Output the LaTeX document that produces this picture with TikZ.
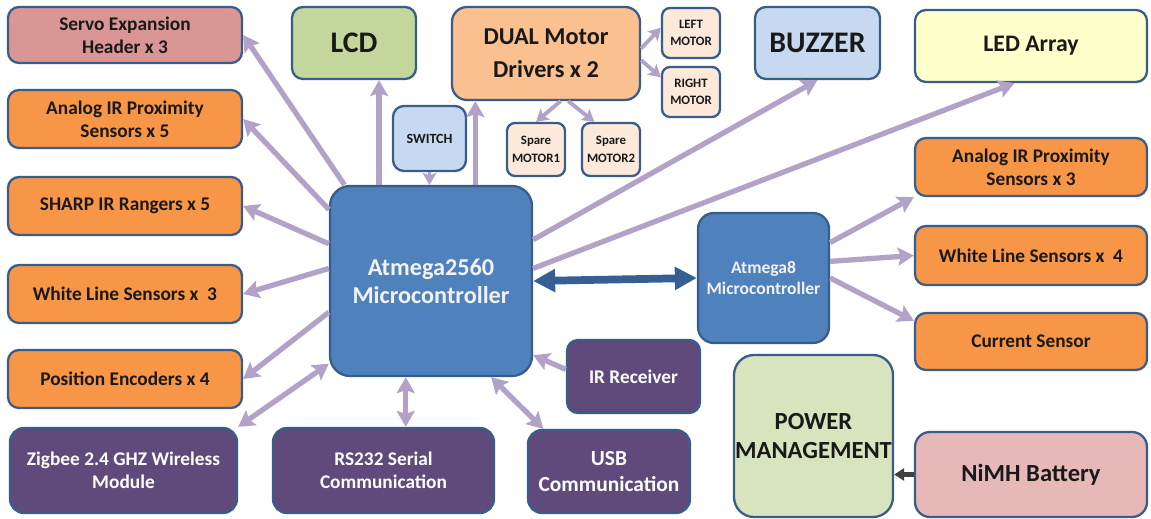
\documentclass[tikz,border=0pt]{standalone}
\usepackage{fontspec}
\setmainfont{Carlito}
\usetikzlibrary{arrows.meta}

\definecolor{boxline}{HTML}{385D8A}
\definecolor{servoc}{HTML}{D99694}
\definecolor{lcdc}{HTML}{C3D69B}
\definecolor{driverc}{HTML}{FAC090}
\definecolor{motorc}{HTML}{FDE9D9}
\definecolor{lightblue}{HTML}{C6D9F1}
\definecolor{ledc}{HTML}{FFFFCC}
\definecolor{sensorc}{HTML}{F79646}
\definecolor{commc}{HTML}{604A7B}
\definecolor{mcuc}{HTML}{4F81BD}
\definecolor{powerc}{HTML}{D7E4BD}
\definecolor{batteryc}{HTML}{E6B9B8}
\definecolor{arrowc}{HTML}{B3A2C7}
\definecolor{linkc}{HTML}{376092}
\definecolor{feedc}{HTML}{404040}

\newcommand{\fsz}[2]{\bfseries\fontsize{#1}{#2}\selectfont}
\tikzset{wh/.style 2 args={minimum width=#1*0.02cm,minimum height=#2*0.02cm}}

\begin{document}
\begin{tikzpicture}[x=0.02cm,y=0.02cm,
  box/.style={draw=boxline,line width=1.3pt,rounded corners=0.22cm,align=center,inner sep=0pt,text=black!90,font=\fsz{11}{13}},
  sensor/.style={box,fill=sensorc,wh={234}{58}},
  comm/.style={box,fill=commc,text=white,font=\fsz{11}{13},rounded corners=0.28cm},
  mcu/.style={box,fill=mcuc,text=white!95!black},
  motor/.style={box,fill=motorc,rounded corners=0.16cm,font=\fsz{7.3}{10}},
  arr/.style={color=arrowc,line width=3pt,-{Stealth[length=0.32cm,width=0.36cm,inset=0.06cm]}},
  darr/.style={color=arrowc,line width=3pt,{Stealth[length=0.32cm,width=0.36cm,inset=0.06cm]}-{Stealth[length=0.32cm,width=0.36cm,inset=0.06cm]}},
  sarr/.style={color=arrowc,line width=2.2pt,-{Stealth[length=0.24cm,width=0.28cm,inset=0.05cm]}},
  link/.style={color=linkc,line width=4.4pt,{Triangle[length=0.44cm,width=0.44cm]}-{Triangle[length=0.44cm,width=0.44cm]}},
  feed/.style={color=feedc,line width=2.4pt,-{Triangle[length=0.2cm,width=0.24cm]}}]

  \useasboundingbox (0,0) rectangle (1151,-519);

  % top row
  \node[box,fill=servoc,wh={234}{56}] at (125,-35) (servo) {Servo Expansion\\Header x 3};
  \node[box,fill=lcdc,wh={124}{72},font=\fsz{17}{20}] at (354,-43) (lcd) {LCD};
  \node[box,fill=driverc,wh={188}{93},font=\fsz{13.8}{18.7},rounded corners=0.3cm] at (546,-53.5) (dual) {DUAL Motor\\Drivers x 2};
  \node[motor,wh={58}{50}] at (691,-33) (left) {LEFT\\MOTOR};
  \node[motor,wh={58}{50}] at (691,-92) (right) {RIGHT\\MOTOR};
  \node[box,fill=lightblue,wh={73}{65},font=\fsz{8}{10}] at (429.5,-138.5) (switch) {SWITCH};
  \node[motor,wh={58}{53}] at (536,-149.5) (spare1) {Spare\\MOTOR1};
  \node[motor,wh={58}{53}] at (611,-149.5) (spare2) {Spare\\MOTOR2};
  \node[box,fill=lightblue,wh={125}{72},font=\fsz{17}{20}] at (817.5,-43) (buzzer) {BUZZER};
  \node[box,fill=ledc,wh={232}{72},font=\fsz{13.5}{15}] at (1031,-46) (led) {LED Array};

  % left column
  \node[sensor] at (125,-119) (analog5) {Analog IR Proximity\\Sensors x 5};
  \node[sensor] at (125,-206) (sharp) {SHARP IR Rangers x 5};
  \node[sensor] at (125,-294) (white3) {White Line Sensors x\ \ 3};
  \node[sensor] at (125,-379) (posenc) {Position Encoders x 4};

  % bottom row
  \node[comm,wh={227}{85}] at (123.5,-470.5) (zigbee) {Zigbee 2.4 GHZ Wireless\\Module};
  \node[comm,wh={221}{85}] at (383.5,-470.5) (rs232) {RS232 Serial\\Communication};
  \node[comm,wh={162}{83},font=\fsz{12.2}{15}] at (609,-471.5) (usb) {USB\\Communication};
  \node[comm,wh={133}{73},rounded corners=0.22cm] at (633.5,-376.5) (irrx) {IR Receiver};

  % controllers
  \node[mcu,wh={202}{190},font=\fsz{13.8}{16},rounded corners=0.4cm] at (431,-281) (mega) {Atmega2560\\Microcontroller};
  \node[mcu,wh={131}{130},font=\fsz{10}{11.7},rounded corners=0.32cm] at (763.5,-278) (mega8) {Atmega8\\Microcontroller};

  % right column
  \node[sensor,wh={232}{58}] at (1031,-167) (analog3) {Analog IR Proximity\\Sensors x 3};
  \node[sensor,wh={232}{59}] at (1031,-255.5) (white4) {White Line Sensors x\ \ 4};
  \node[sensor,wh={232}{57}] at (1031,-341.5) (current) {Current Sensor};
  \node[box,fill=powerc,wh={159}{162},font=\fsz{14}{16.4},rounded corners=0.4cm] at (813.5,-436) (power) {POWER\\MANAGEMENT};
  \node[box,fill=batteryc,wh={232}{85},font=\fsz{14}{16},rounded corners=0.3cm] at (1031,-474.5) (nimh) {NiMH Battery};

  \path[arr]
  (mega.132) edge (servo.east)
  (mega.145) edge (analog5.east)
  (mega.160) edge (sharp.east)
  (mega.173) edge (white3.east)
  (mega.197) edge (posenc.east)
  (lcd.-56 |- mega.north) edge (lcd.-56)
  (dual.214 |- mega.north) edge (dual.214)
  (mega.22) edge (buzzer.south)
  (mega.7) edge (led.246)
  (irrx.174) edge (mega.-36)
  (mega8.28) edge (analog3.south west)
  (mega8.14) edge (white4.west)
  (mega8.east) edge (current.170);

  \path[darr]
  (mega.219) edge (zigbee.north east)
  (rs232.63 |- mega.south) edge (rs232.63)
  (mega.-58) edge (usb.147);

  \path[sarr]
  (dual.3) edge (left.170)
  (dual.-4) edge (right.154)
  (dual.-73) edge (spare1.north)
  (dual.-65) edge (spare2.121)
  (switch.south) edge (switch.south |- mega.north);

  \path[link] (mega.east) edge (mega8.west);
  \path[feed] (nimh.west) edge (power.east |- nimh.west);
\end{tikzpicture}
\end{document}
